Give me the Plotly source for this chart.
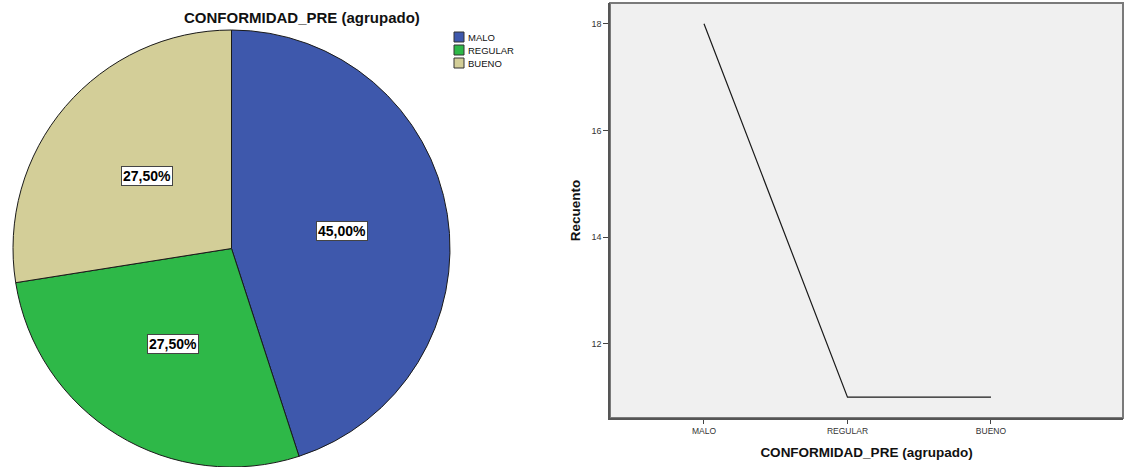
import math
import plotly.graph_objects as go

# Data
categories = ["MALO", "REGULAR", "BUENO"]
counts = [18, 11, 11]
slice_colors = ["#3E58AC", "#2EB848", "#D3CE98"]
y_ticks = [12, 14, 16, 18]
chart_title = "CONFORMIDAD_PRE (agrupado)"
y_title = "Recuento"

W, H = 1125, 467
FONT = "Liberation Sans, Arial, sans-serif"

pie_dom_x = [11 / W, 452 / W]
pie_dom_y = [0, 437 / H]

fig = go.Figure()

# Pie of the grouped variable
fig.add_trace(go.Pie(
    labels=categories, values=counts, sort=False, direction="clockwise", rotation=0,
    marker=dict(colors=slice_colors, line=dict(color="#1a1a1a", width=1)),
    textinfo="none", showlegend=False, hoverinfo="label+value+percent",
    domain=dict(x=pie_dom_x, y=pie_dom_y),
))

# Count line by category
fig.add_trace(go.Scatter(
    x=categories, y=counts, mode="lines",
    line=dict(color="#1a1a1a", width=1.2), showlegend=False,
    xaxis="x", yaxis="y",
))

# Percentage labels in boxes at each slice's mid angle
total = sum(counts)
cx_px = (pie_dom_x[0] + pie_dom_x[1]) / 2 * W
cy_px = (pie_dom_y[0] + pie_dom_y[1]) / 2 * H
radius_px = min((pie_dom_x[1] - pie_dom_x[0]) * W, (pie_dom_y[1] - pie_dom_y[0]) * H) / 2
cum = 0.0
for cat, v in zip(categories, counts):
    share = v / total
    mid = (cum + share / 2) * 2 * math.pi
    cum += share
    r = 0.51 * radius_px
    lx = (cx_px + r * math.sin(mid)) / W
    ly = (cy_px + r * math.cos(mid)) / H
    label = f"{share * 100:.2f}".replace(".", ",") + "%"
    fig.add_annotation(
        x=lx, y=ly, xref="paper", yref="paper", xanchor="center", yanchor="middle",
        text=f"<b>{label}</b>",
        showarrow=False, bgcolor="white", bordercolor="#444", borderwidth=1, borderpad=1,
        font=dict(size=14, color="black", family=FONT),
    )

# Pie title
fig.add_annotation(
    x=302 / W, y=1 - 18 / H, xref="paper", yref="paper", xanchor="center", yanchor="middle",
    text=f"<b>{chart_title}</b>", showarrow=False,
    font=dict(size=15, color="#111", family=FONT),
)

# Legend for the pie
for i, (cat, col) in enumerate(zip(categories, slice_colors)):
    top = 32 + 13 * i
    fig.add_shape(
        type="rect", xref="paper", yref="paper",
        x0=454 / W, x1=464 / W, y0=1 - (top + 10) / H, y1=1 - top / H,
        fillcolor=col, line=dict(color="#333", width=1),
    )
    fig.add_annotation(
        x=466 / W, y=1 - (top + 5) / H, xref="paper", yref="paper",
        xanchor="left", yanchor="middle", text=cat, showarrow=False,
        font=dict(size=9.5, color="#111", family=FONT),
    )

# Frame around the line plot
fig.add_shape(
    type="rect", xref="x domain", yref="y domain", x0=0, x1=1, y0=0, y1=1,
    line=dict(color="#7a7a7a", width=2), layer="below",
)

fig.update_layout(
    width=W, height=H,
    margin=dict(l=0, r=0, t=0, b=0),
    paper_bgcolor="white", plot_bgcolor="#F0F0F0",
    font=dict(family=FONT, color="#222"),
    showlegend=False,
    xaxis=dict(
        domain=[610 / W, 1123 / W], type="category", range=[-0.655, 2.92],
        showgrid=False, zeroline=False,
        showline=True, linecolor="#555", linewidth=1.5,
        ticks="outside", ticklen=4, tickcolor="#444", tickwidth=1,
        tickfont=dict(size=8.5, color="#333", family=FONT),
        title=dict(text=f"<b>{chart_title}</b>", font=dict(size=13.5, color="#111", family=FONT), standoff=13),
    ),
    yaxis=dict(
        domain=[49 / H, 464 / H], range=[10.61, 18.39],
        tickvals=y_ticks, showgrid=False, zeroline=False,
        showline=True, linecolor="#555", linewidth=1.5,
        ticks="outside", ticklen=5, tickcolor="#444", tickwidth=1,
        tickfont=dict(size=9, color="#333", family=FONT),
        title=dict(text=f"<b>{y_title}</b>", font=dict(size=13.5, color="#111", family=FONT), standoff=8),
    ),
)

fig.write_html("out.html")
